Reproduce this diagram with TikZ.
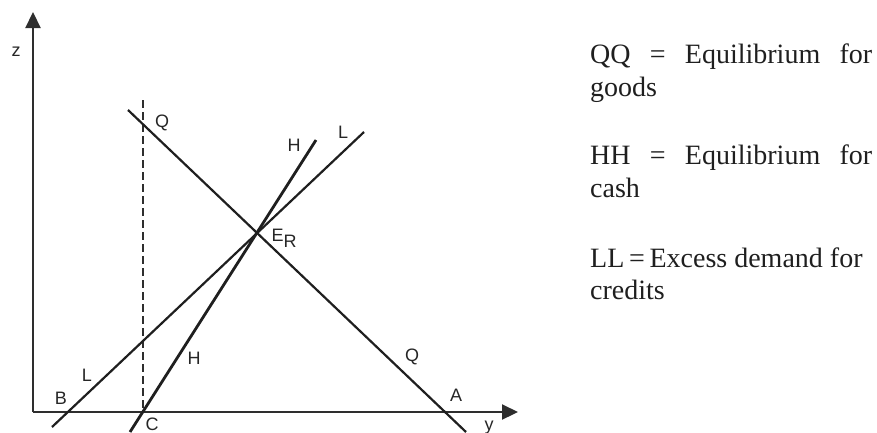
\documentclass[tikz,border=0pt]{standalone}
\usepackage{fontspec}
\setmainfont{Liberation Serif}
\newfontfamily\lblfont{Liberation Sans}
\usetikzlibrary{arrows.meta}
\begin{document}
\begin{tikzpicture}[x=1pt,y=-1pt,
  lbl/.style={font=\lblfont\fontsize{18}{21}\selectfont, inner sep=0pt, text=black!85},
  curve/.style={line width=2.2pt, draw=black!88},
  thick curve/.style={line width=2.8pt, draw=black!88},
  axis/.style={line width=2.2pt, draw=black!82, -{Triangle[length=16pt,width=15pt]}},
  guide/.style={line width=1.5pt, draw=black!82, dash pattern=on 8pt off 4pt},
  legend/.style={font=\fontsize{28}{33.5}\selectfont, anchor=base west, inner sep=0pt, text=black!88}]
\useasboundingbox (0,0) rectangle (877,432);
% points
\coordinate (O) at (33,412);
\coordinate (ztip) at (33,12);
\coordinate (ytip) at (518,412);
\coordinate (Qtop) at (128,110);
\coordinate (Qbot) at (466,432);
\coordinate (Htop) at (316,140);
\coordinate (Hbot) at (130,432);
\coordinate (Ltop) at (364,132);
\coordinate (Lbot) at (52,427);
\coordinate (Dtop) at (143,100);
\coordinate (Dbot) at (143,412);
% axes
\draw[axis] (O) -- (ztip);
\draw[axis] (O) -- (ytip);
% dashed guide
\draw[guide] (Dtop) -- (Dbot);
% curves
\draw[curve] (Qtop) -- (Qbot);
\draw[thick curve] (Htop) -- (Hbot);
\draw[curve] (Ltop) -- (Lbot);
% labels
\node[lbl] (zl) at (16,52) {z};
\node[lbl] (yl) at (489,428) {y};
\node[lbl] (Q1) at (162,123) {Q};
\node[lbl] (H1) at (294,145) {H};
\node[lbl] (L1) at (343,132) {L};
\node[lbl] (ER) at (284,238) {E\raisebox{-6pt}{R}};
\node[lbl] (L2) at (87,375) {L};
\node[lbl] (H2) at (194,358) {H};
\node[lbl] (Bl) at (61,398) {B};
\node[lbl] (Cl) at (152,424) {C};
\node[lbl] (Q2) at (412,357) {Q};
\node[lbl] (Al) at (456,395) {A};
% legend
\node[legend] (t1) at (590,63) {\hbox to 282pt{QQ\hfill=\hfill Equilibrium\hfill for}};
\node[legend] (t2) at (590,96) {goods};
\node[legend] (t3) at (590,164) {\hbox to 282pt{HH\hfill=\hfill Equilibrium\hfill for}};
\node[legend] (t4) at (590,197) {cash};
\node[legend] (t5) at (590,267) {LL\,=\,Excess demand for};
\node[legend] (t6) at (590,299) {credits};
\end{tikzpicture}
\end{document}
